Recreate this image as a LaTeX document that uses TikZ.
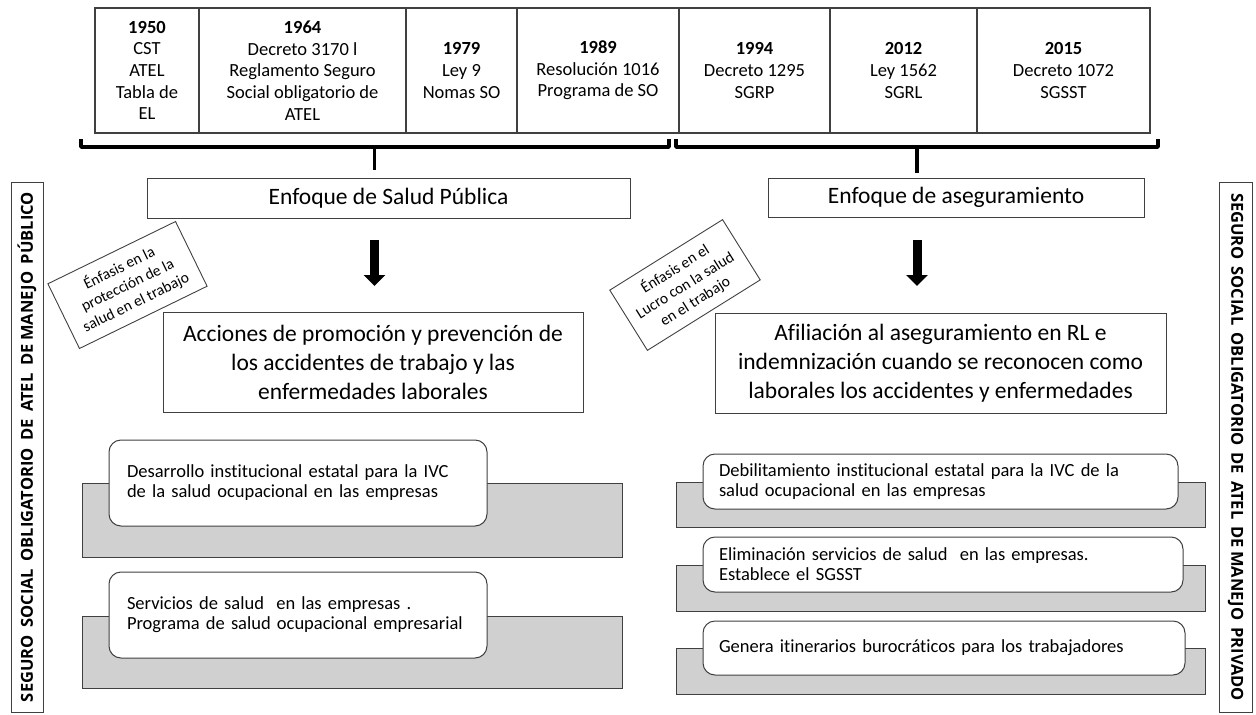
\documentclass[tikz,border=0pt]{standalone}
\usepackage{fontspec}
\setmainfont{Carlito}[Ligatures=NoCommon]
\newfontfamily\barfont{Open Sans}
\usetikzlibrary{arrows.meta}
\definecolor{lineg}{RGB}{64,64,64}
\definecolor{grayfill}{RGB}{208,208,208}
\begin{document}
\begin{tikzpicture}[x=1pt,y=-1pt,
  cell/.style={draw=lineg, line width=1.2pt, minimum height=125pt, inner sep=0pt, outer sep=0pt,
    anchor=north west, align=center, font=\fontsize{18.5}{21.7}\selectfont},
  fbox/.style={draw=lineg, line width=1pt, inner sep=0pt, outer sep=0pt, align=center,
    font=\fontsize{23.5}{29}\selectfont},
  emph/.style={draw=lineg, line width=0.9pt, inner sep=0pt, outer sep=0pt, align=center,
    font=\fontsize{15.5}{19}\selectfont},
  gbox/.style={draw=lineg, line width=1pt, fill=grayfill, inner sep=0pt, outer sep=0pt},
  wbox/.style={draw=lineg, line width=1pt, fill=white, rounded corners=12pt, inner ysep=0pt, outer sep=0pt,
    align=left, font=\fontsize{18.5}{20}\selectfont},
  bracket/.style={draw=black, line width=3.5pt, line cap=butt, line join=round},
  bigarrow/.style={draw=black, line width=9pt, -{Triangle[width=21pt,length=11pt]}},
  sidebar/.style={draw=lineg, line width=1pt, inner sep=0pt, outer sep=0pt},
  sidetext/.style={font=\barfont\bfseries\fontsize{16.5}{19}\selectfont, inner sep=0pt}
]
\useasboundingbox (0,0) rectangle (1256,715);

% timeline table
\node[cell, minimum width=104pt] (c1) at (95,8) {\textbf{1950}\\CST\\ATEL\\Tabla de\\EL};
\node[cell, minimum width=207pt] (c2) at (199,8) {\textbf{1964}\\Decreto 3170 l\\Reglamento Seguro\\Social obligatorio de\\ATEL};
\node[cell, minimum width=111pt] (c3) at (406,8) {\textbf{1979}\\Ley 9\\Nomas SO};
\node[cell, minimum width=162pt] (c4) at (517,8) {\textbf{1989}\\Resolución 1016\\Programa de SO};
\node[cell, minimum width=151pt] (c5) at (679,8) {\textbf{1994}\\Decreto 1295\\SGRP};
\node[cell, minimum width=147pt] (c6) at (830,8) {\textbf{2012}\\Ley 1562\\SGRL};
\node[cell, minimum width=173pt] (c7) at (977,8) {\textbf{2015}\\Decreto 1072\\SGSST};

% brackets
\coordinate (b1l) at (81,139);
\coordinate (b1r) at (669,139);
\coordinate (b2l) at (676,139);
\coordinate (b2r) at (1158,139);
\draw[bracket] (b1l) |- (669,147) -- (b1r);
\draw[bracket] (b2l) |- (1158,147) -- (b2r);
\coordinate (s1a) at (374.5,147);
\coordinate (s1b) at (374.5,170);
\coordinate (s2a) at (917,147);
\coordinate (s2b) at (917,173);
\draw[bracket] (s1a) -- (s1b);
\draw[bracket] (s2a) -- (s2b);

% approach boxes
\node[fbox, minimum width=483pt, minimum height=40pt] (enf1) at (388.5,198) {Enfoque de Salud Pública};
\node[fbox, minimum width=376pt, minimum height=39pt] (enf2) at (956,197.5) {Enfoque de aseguramiento};

% arrows
\coordinate (a1s) at (374.5,240);
\coordinate (a1e) at (374.5,286);
\coordinate (a2s) at (917,240);
\coordinate (a2e) at (917,286);
\draw[bigarrow] (a1s) -- (a1e);
\draw[bigarrow] (a2s) -- (a2e);

% emphasis notes
\node[emph, rotate=26, minimum width=142pt, minimum height=72pt] (e1) at (127.5,285) {Énfasis en la\\protección de la\\salud en el trabajo};
\node[emph, rotate=32, minimum width=133pt, minimum height=71pt] (e2) at (685,285) {Énfasis en el\\Lucro con la salud\\en el trabajo};

% action boxes
\node[fbox, minimum width=420pt, minimum height=100pt] (acc1) at (373,362) {Acciones de promoción y prevención de\\los accidentes de trabajo y las\\enfermedades laborales};
\node[fbox, minimum width=451pt, minimum height=100pt] (acc2) at (940.5,363) {Afiliación al aseguramiento en RL e\\indemnización cuando se reconocen como\\laborales los accidentes y enfermedades};

% gray bands
\node[gbox, minimum width=540pt, minimum height=74pt] (g1) at (352,520) {};
\node[gbox, minimum width=540pt, minimum height=72pt] (g2) at (352,652) {};
\node[gbox, minimum width=529pt, minimum height=45pt] (g3) at (940.5,504.5) {};
\node[gbox, minimum width=529pt, minimum height=46pt] (g4) at (940.5,588) {};
\node[gbox, minimum width=529pt, minimum height=46pt] (g5) at (940.5,671) {};

% white boxes
\node[wbox, minimum height=86pt, inner xsep=18pt, text width=342pt] (w1) at (298,483) {Desarrollo institucional estatal para la IVC\\de la salud ocupacional en las empresas};
\node[wbox, minimum height=86pt, inner xsep=18pt, text width=342pt] (w2) at (298,615) {Servicios de salud\ \ en las empresas .\\Programa de salud ocupacional empresarial};
\node[wbox, minimum height=55pt, inner xsep=16pt, text width=443pt] (w3) at (940.5,481.5) {Debilitamiento institucional estatal para la IVC de la\\salud ocupacional en las empresas};
\node[wbox, minimum height=55pt, inner xsep=16pt, text width=448pt] (w4) at (943,564.5) {Eliminación servicios de salud\ \ en las empresas.\\Establece el SGSST};
\node[wbox, minimum height=54pt, inner xsep=16pt, text width=450pt] (w5) at (944,648) {Genera itinerarios burocráticos para los trabajadores};

% side bars
\node[sidebar, minimum width=32pt, minimum height=530pt] (sbl) at (27,447) {};
\node[sidetext, rotate=90] (tl) at (sbl.center) {\makebox[510pt][s]{SEGURO\ \ SOCIAL\ \ OBLIGATORIO\ \ DE\ \ ATEL\ \ DE MANEJO\ \ PÚBLICO}};
\node[sidebar, minimum width=33pt, minimum height=530pt] (sbr) at (1235.5,447) {};
\node[sidetext, rotate=-90] (tr) at (sbr.center) {\makebox[508pt][s]{SEGURO\ \ SOCIAL\ \ OBLIGATORIO\ \ DE\ \ ATEL\ \ DE MANEJO\ \ PRIVADO}};
\end{tikzpicture}
\end{document}
